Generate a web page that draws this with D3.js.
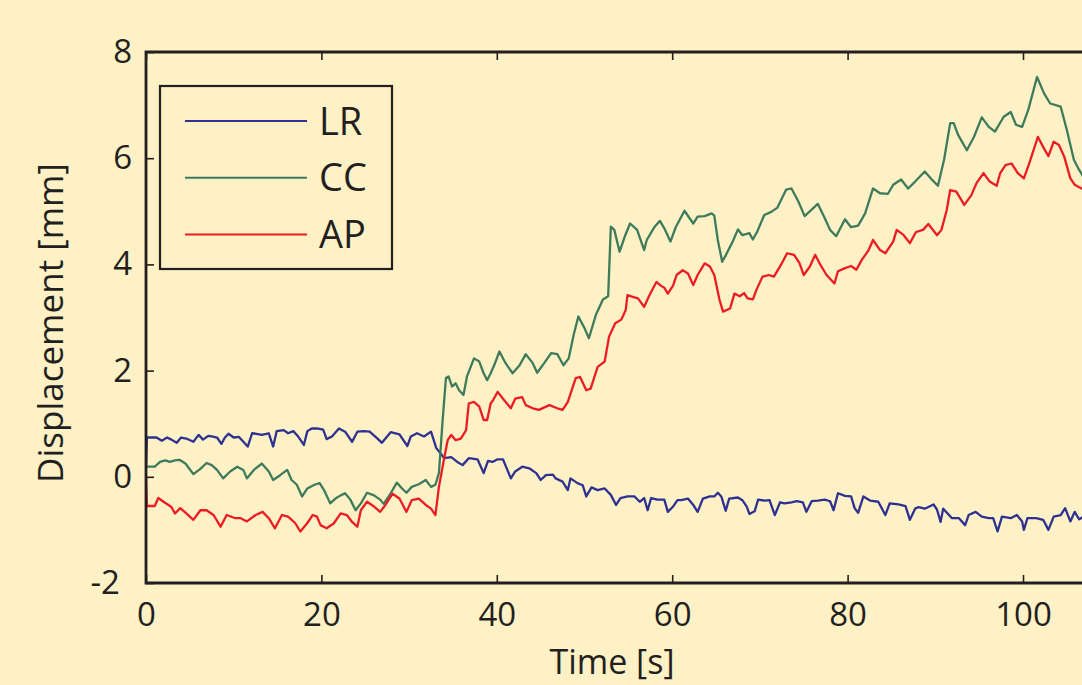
<!DOCTYPE html>
<html>
<head>
<meta charset="utf-8">
<script src="https://cdn.jsdelivr.net/npm/d3@7"></script>
<style>
	body { margin: 0; background: #FDF1C5; }
	text { font-family: "Open Sans", "Noto Sans", sans-serif; fill: #231F20; }
</style>
</head>
<body>
<div id="chart"><svg width="1082" height="685"></svg></div>
<script>

// data: [time s, displacement mm]
const lrData = [[0,0.15],[0.1,0.74],[1.2,0.74],[1.8,0.68],[2.4,0.74],[2.9,0.70],[3.5,0.64],[4.0,0.74],[4.6,0.72],[5.4,0.66],[6.0,0.79],[6.5,0.70],[7.1,0.77],[7.5,0.76],[8.1,0.74],[8.6,0.62],[9.0,0.74],[9.4,0.81],[10.0,0.74],[10.6,0.75],[11.1,0.66],[11.6,0.57],[12.1,0.82],[12.6,0.81],[13.2,0.79],[14.0,0.82],[14.5,0.57],[14.9,0.86],[15.7,0.88],[16.2,0.82],[16.8,0.86],[17.3,0.77],[18.0,0.60],[18.4,0.86],[18.9,0.91],[19.5,0.91],[20.2,0.89],[20.6,0.71],[21.2,0.76],[22.0,0.91],[22.7,0.85],[23.5,0.66],[24.1,0.85],[24.8,0.86],[25.5,0.85],[26.4,0.72],[26.9,0.64],[27.9,0.84],[28.9,0.80],[29.8,0.58],[30.2,0.76],[30.9,0.82],[31.7,0.76],[32.5,0.85],[33.1,0.54],[33.6,0.44],[34.0,0.35],[34.8,0.37],[35.5,0.28],[36.1,0.22],[36.8,0.35],[37.8,0.33],[38.5,0.07],[39.0,0.30],[39.5,0.28],[40.1,0.33],[40.7,0.33],[41.2,0.13],[41.6,-0.03],[42.1,0.10],[42.9,0.19],[43.7,0.16],[44.5,0.07],[45.0,-0.06],[45.6,0.03],[46.4,0.04],[46.7,-0.03],[47.5,-0.09],[48.1,-0.25],[48.4,-0.03],[49.2,-0.12],[49.8,-0.16],[50.2,-0.37],[50.8,-0.20],[51.5,-0.25],[52.3,-0.22],[53.0,-0.34],[53.6,-0.53],[54.1,-0.40],[54.9,-0.37],[55.7,-0.37],[56.3,-0.47],[56.8,-0.40],[57.2,-0.63],[57.6,-0.40],[58.3,-0.43],[59.1,-0.43],[59.5,-0.66],[60.1,-0.56],[60.6,-0.44],[61.0,-0.44],[61.8,-0.41],[62.4,-0.53],[62.9,-0.66],[63.5,-0.41],[64.3,-0.37],[64.8,-0.37],[65.2,-0.30],[65.6,-0.37],[66.1,-0.64],[66.5,-0.41],[67.5,-0.39],[68.0,-0.44],[68.5,-0.56],[68.8,-0.70],[69.4,-0.65],[69.8,-0.43],[70.6,-0.45],[71.1,-0.44],[71.7,-0.72],[72.3,-0.48],[72.8,-0.50],[73.6,-0.48],[74.2,-0.46],[74.9,-0.48],[75.3,-0.66],[75.9,-0.46],[76.6,-0.45],[77.4,-0.43],[78.0,-0.46],[78.4,-0.63],[78.9,-0.31],[79.7,-0.36],[80.4,-0.37],[80.8,-0.59],[81.2,-0.68],[81.8,-0.37],[82.6,-0.45],[83.5,-0.47],[84.3,-0.72],[84.8,-0.50],[85.8,-0.52],[86.6,-0.55],[87.1,-0.81],[87.7,-0.60],[88.1,-0.57],[88.8,-0.60],[89.8,-0.52],[90.2,-0.62],[90.6,-0.85],[90.9,-0.60],[91.9,-0.78],[92.7,-0.78],[93.4,-0.91],[93.8,-0.72],[94.6,-0.66],[95.3,-0.75],[96.1,-0.78],[96.6,-0.78],[97.1,-1.03],[97.6,-0.75],[98.6,-0.78],[99.3,-0.72],[99.9,-0.84],[100.1,-1.0],[100.5,-0.78],[101.5,-0.78],[102.3,-0.81],[102.9,-1.0],[103.5,-0.75],[104.3,-0.72],[104.8,-0.59],[105.4,-0.84],[105.9,-0.66],[106.4,-0.80],[107.0,-0.74]];

const ccData = [[0,0.19],[1.0,0.19],[1.6,0.28],[2.2,0.31],[2.7,0.28],[3.3,0.31],[3.8,0.32],[4.5,0.25],[5.4,0.05],[6.2,0.15],[6.9,0.26],[7.5,0.22],[8.1,0.13],[8.8,-0.03],[9.6,0.10],[10.4,0.19],[11.1,0.13],[11.5,-0.03],[12.3,0.13],[13.2,0.25],[14.0,0.10],[14.5,-0.06],[15.3,0.03],[16.1,0.13],[16.6,-0.06],[17.2,-0.15],[17.8,-0.37],[18.4,-0.22],[19.2,-0.15],[19.8,-0.12],[20.3,-0.25],[21.0,-0.50],[21.6,-0.41],[22.2,-0.35],[22.7,-0.31],[23.3,-0.43],[23.9,-0.63],[24.5,-0.50],[25.2,-0.30],[26.0,-0.35],[26.7,-0.43],[27.1,-0.51],[27.9,-0.31],[28.6,-0.11],[29.2,-0.22],[29.7,-0.30],[30.3,-0.19],[31.1,-0.14],[31.9,-0.06],[32.5,-0.19],[33.0,-0.15],[33.4,0.07],[33.8,1.01],[34.2,1.86],[34.5,1.89],[34.9,1.70],[35.3,1.76],[35.7,1.63],[36.2,1.54],[36.6,1.89],[37.4,2.23],[38.0,2.17],[38.5,1.95],[38.9,1.82],[39.3,1.95],[39.7,2.10],[40.3,2.36],[41.0,2.14],[41.8,1.95],[42.6,2.10],[43.3,2.31],[44.1,2.14],[44.6,1.96],[45.4,2.14],[46.2,2.33],[46.9,2.31],[47.6,2.10],[48.2,2.23],[48.8,2.70],[49.3,3.02],[50.0,2.80],[50.5,2.61],[51.3,3.05],[52.1,3.34],[52.7,3.40],[53.0,4.71],[53.4,4.65],[54.0,4.24],[54.6,4.53],[55.2,4.77],[56.0,4.65],[56.8,4.27],[57.1,4.46],[58.0,4.71],[58.6,4.82],[59.1,4.68],[59.8,4.43],[60.4,4.70],[61.4,5.01],[62.4,4.77],[62.9,4.90],[63.7,4.91],[64.5,4.96],[64.8,4.92],[65.2,4.46],[65.7,4.05],[66.1,4.17],[66.9,4.43],[67.5,4.66],[68.0,4.55],[68.8,4.59],[69.2,4.47],[69.7,4.62],[70.5,4.93],[71.3,4.99],[72.0,5.07],[73.0,5.41],[73.6,5.43],[74.4,5.18],[75.1,4.91],[75.9,5.03],[76.6,5.14],[77.4,4.87],[78.0,4.65],[78.7,4.53],[79.7,4.85],[80.4,4.70],[81.2,4.73],[82.0,4.96],[82.9,5.43],[83.7,5.34],[84.6,5.33],[85.2,5.50],[86.1,5.60],[86.9,5.43],[87.7,5.56],[88.8,5.75],[89.6,5.60],[90.3,5.48],[91.0,5.97],[91.7,6.66],[92.1,6.66],[92.6,6.44],[93.6,6.15],[94.4,6.40],[95.3,6.77],[96.1,6.59],[96.8,6.50],[97.8,6.78],[98.6,6.87],[99.2,6.63],[99.9,6.59],[100.6,6.91],[101.6,7.53],[102.4,7.22],[103.1,7.03],[104.3,6.97],[105.0,6.53],[105.8,5.97],[106.3,5.81],[107.0,5.62]];

const apData = [[0,0.0],[0.1,-0.55],[1.0,-0.55],[1.4,-0.40],[2.0,-0.47],[2.9,-0.57],[3.3,-0.69],[3.9,-0.59],[4.6,-0.69],[5.4,-0.81],[6.2,-0.63],[6.9,-0.63],[7.7,-0.72],[8.5,-0.94],[9.2,-0.72],[10.2,-0.78],[10.8,-0.78],[11.5,-0.84],[12.5,-0.72],[13.3,-0.66],[14.0,-0.78],[14.7,-0.97],[15.5,-0.72],[16.2,-0.75],[17.0,-0.87],[17.6,-1.03],[18.4,-0.87],[19.0,-0.72],[19.5,-0.75],[19.9,-0.91],[20.6,-0.97],[21.4,-0.88],[22.2,-0.69],[22.9,-0.72],[23.5,-0.85],[24.1,-0.94],[24.5,-0.63],[25.2,-0.47],[26.0,-0.56],[26.7,-0.66],[27.3,-0.53],[28.1,-0.32],[28.9,-0.41],[29.7,-0.66],[30.3,-0.44],[31.1,-0.41],[31.9,-0.53],[32.5,-0.60],[33.0,-0.72],[33.4,-0.19],[34.0,0.35],[34.4,0.69],[34.8,0.79],[35.3,0.69],[35.9,0.72],[36.5,0.88],[36.8,1.38],[37.4,1.41],[38.0,1.32],[38.5,1.07],[38.9,1.07],[39.3,1.38],[39.6,1.45],[40.1,1.60],[40.8,1.45],[41.6,1.29],[42.1,1.47],[42.9,1.50],[43.3,1.35],[44.1,1.29],[44.8,1.26],[46.0,1.35],[46.9,1.29],[47.5,1.26],[48.1,1.41],[49.0,1.86],[49.5,1.88],[50.2,1.63],[50.7,1.66],[51.5,2.07],[52.3,2.17],[52.8,2.64],[53.5,2.89],[54.2,2.96],[54.7,3.14],[54.9,3.42],[55.5,3.39],[56.1,3.36],[56.8,3.20],[57.4,3.42],[58.2,3.67],[58.7,3.60],[59.1,3.56],[59.5,3.45],[60.1,3.60],[60.5,3.80],[61.2,3.89],[61.8,3.83],[62.4,3.61],[62.9,3.80],[63.7,4.02],[64.3,3.96],[64.8,3.80],[65.4,3.33],[65.8,3.11],[66.6,3.17],[67.1,3.45],[67.7,3.40],[68.2,3.46],[68.6,3.36],[69.2,3.34],[69.6,3.52],[70.3,3.77],[71.0,3.80],[71.6,3.77],[72.5,4.02],[73.1,4.21],[73.9,4.18],[74.5,4.03],[75.0,3.80],[75.7,3.96],[76.3,4.18],[76.8,4.02],[77.6,3.80],[78.5,3.64],[78.9,3.87],[79.7,3.93],[80.4,3.97],[81.0,3.90],[81.6,4.08],[82.4,4.27],[82.9,4.46],[83.7,4.27],[84.3,4.21],[85.2,4.43],[85.6,4.65],[86.4,4.55],[87.1,4.40],[87.8,4.61],[88.6,4.65],[89.2,4.76],[90.2,4.55],[90.7,4.65],[91.3,5.02],[91.7,5.40],[92.4,5.37],[93.3,5.12],[94.1,5.30],[94.7,5.53],[95.5,5.72],[96.2,5.56],[97.0,5.48],[97.4,5.72],[98.0,5.87],[98.7,5.90],[99.4,5.72],[100.1,5.62],[100.7,5.90],[101.7,6.40],[102.4,6.18],[102.9,6.04],[103.5,6.31],[104.1,6.25],[104.7,6.03],[105.4,5.62],[105.9,5.50],[107.0,5.40]];

const seriesNames = ["LR", "CC", "AP"];
const seriesColors = ["#2E3192", "#3E7B5C", "#ED1C24"];
const xTicks = [0, 20, 40, 60, 80, 100];
const yTicks = [-2, 0, 2, 4, 6, 8];

// setup
const width = 1082;
const height = 685;
const margin = {top: 52, left: 146, bottom: 102};
const plotBottom = height - margin.bottom;

const svg = d3.select("#chart").select("svg");

svg.append("rect")
	.attr("width", width)
	.attr("height", height)
	.attr("fill", "#FDF1C5");

// scales
const xScale = d3.scaleLinear()
	.domain([0, 108])
	.range([margin.left, margin.left + 108 * 8.77]);

const yScale = d3.scaleLinear()
	.domain([-2, 8])
	.range([plotBottom, margin.top]);

// clip
svg.append("clipPath")
	.attr("id", "plotClip")
  .append("rect")
	.attr("x", margin.left)
	.attr("y", margin.top)
	.attr("width", width - margin.left)
	.attr("height", plotBottom - margin.top);

// lines
const line = d3.line()
	.x(d => xScale(d[0]))
	.y(d => yScale(d[1]));

const plot = svg.append("g").attr("clip-path", "url(#plotClip)");

[lrData, ccData, apData].forEach((data, i) => {
	plot.append("path")
	  .datum(data)
		.attr("fill", "none")
		.attr("stroke", seriesColors[i])
		.attr("stroke-width", 2.3)
		.attr("stroke-linejoin", "round")
		.attr("d", line);
});

// axes (ticks pointing inward)
const axisColor = "#231F20";

const xAxis = svg.append("g")
	.attr("transform", `translate(0, ${plotBottom})`)
	.call(d3.axisBottom(xScale)
		.tickValues(xTicks)
		.tickFormat(d => String(d))
		.tickSizeInner(-8)
		.tickSizeOuter(0)
		.tickPadding(20)
	);

const xAxisTop = svg.append("g")
	.attr("transform", `translate(0, ${margin.top})`)
	.call(d3.axisTop(xScale)
		.tickValues(xTicks)
		.tickFormat("")
		.tickSizeInner(-8)
		.tickSizeOuter(0)
	);

const yAxis = svg.append("g")
	.attr("transform", `translate(${margin.left}, 0)`)
	.call(d3.axisLeft(yScale)
		.tickValues(yTicks)
		.tickFormat(d => String(d))
		.tickSizeInner(-8)
		.tickSizeOuter(0)
		.tickPadding(14)
	);

[xAxis, xAxisTop, yAxis].forEach(g => {
	g.select(".domain").remove();
	g.selectAll(".tick line")
		.attr("stroke", axisColor)
		.attr("stroke-width", 1.6);
	g.selectAll(".tick text")
		.attr("font-family", null)
		.attr("font-size", null)
		.style("font-size", "33px")
		.attr("fill", axisColor);
});

xAxis.selectAll(".tick text").attr("dy", "0.71em");

// the -2 label sits a little further left in the original
yAxis.selectAll(".tick text")
	.filter(d => d === -2)
	.attr("x", -26);

// frame
svg.append("path")
	.attr("d", `M${width + 10},${margin.top}H${margin.left}V${plotBottom}H${width + 10}`)
	.attr("fill", "none")
	.attr("stroke", axisColor)
	.attr("stroke-width", 2.8)
	.attr("stroke-linejoin", "miter");

// axis labels
svg.append("text")
	.attr("x", 612)
	.attr("y", 674)
	.attr("text-anchor", "middle")
	.style("font-size", "34px")
	.text("Time [s]");

svg.append("text")
	.attr("transform", "translate(63, 323) rotate(-90)")
	.attr("text-anchor", "middle")
	.style("font-size", "35px")
	.text("Displacement [mm]");

// legend
const legend = svg.append("g");

legend.append("rect")
	.attr("x", 160)
	.attr("y", 86)
	.attr("width", 232)
	.attr("height", 183)
	.attr("fill", "#FDF1C5")
	.attr("stroke", axisColor)
	.attr("stroke-width", 2.2);

seriesNames.forEach((name, i) => {
	const ly = 121 + i * 56.7;
	legend.append("line")
		.attr("x1", 185)
		.attr("x2", 307)
		.attr("y1", ly)
		.attr("y2", ly)
		.attr("stroke", seriesColors[i])
		.attr("stroke-width", 2);
	legend.append("text")
		.attr("x", 319)
		.attr("y", ly)
		.attr("dy", "0.36em")
		.style("font-size", "38px")
		.text(name);
});

</script>
</body>
</html>
